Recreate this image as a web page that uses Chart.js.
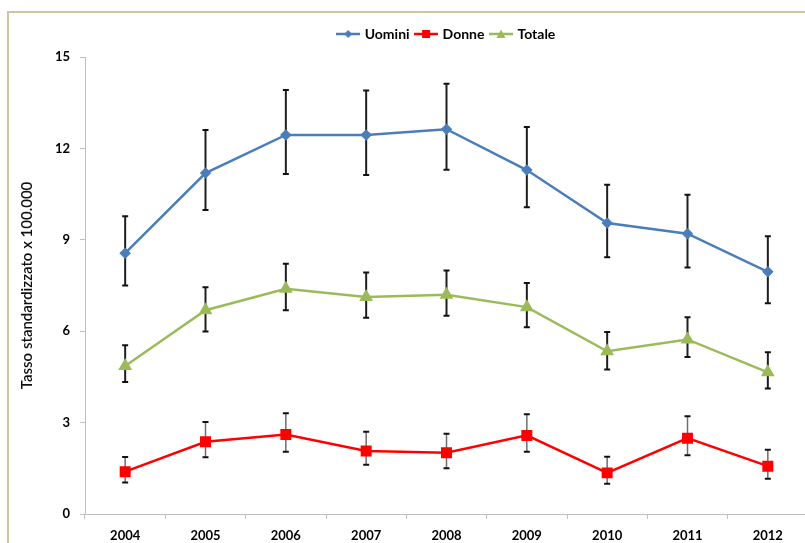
<!DOCTYPE html>
<html>
<head>
<meta charset="utf-8">
<script src="https://cdn.jsdelivr.net/npm/chart.js@4/dist/chart.umd.min.js"></script>
<style>
html,body{margin:0;padding:0;background:#fff;overflow:hidden;width:805px;height:543px;}
canvas{display:block;}
</style>
</head>
<body>
<canvas id="c" width="830" height="543"></canvas>
<script>
const years = ['2004','2005','2006','2007','2008','2009','2010','2011','2012'];
const uomini   = [8.56, 11.19, 12.44, 12.44, 12.63, 11.29, 9.55, 9.20, 7.95];
const uominiLo = [7.50,  9.98, 11.16, 11.13, 11.30, 10.07, 8.43, 8.09, 6.92];
const uominiHi = [9.77, 12.60, 13.92, 13.90, 14.12, 12.70, 10.81, 10.48, 9.12];
const donne    = [1.39, 2.37, 2.61, 2.07, 2.01, 2.58, 1.35, 2.49, 1.57];
const donneLo  = [1.03, 1.86, 2.04, 1.62, 1.50, 2.04, 0.99, 1.93, 1.16];
const donneHi  = [1.87, 3.02, 3.31, 2.70, 2.63, 3.27, 1.88, 3.21, 2.11];
const totale   = [4.86, 6.69, 7.39, 7.12, 7.20, 6.79, 5.34, 5.73, 4.65];
const totaleLo = [4.33, 5.99, 6.69, 6.44, 6.51, 6.13, 4.74, 5.15, 4.12];
const totaleHi = [5.54, 7.44, 8.21, 7.93, 7.99, 7.58, 5.97, 6.46, 5.31];
const seriesNames = ['Uomini','Donne','Totale'];
const yTitle = 'Tasso standardizzato x 100.000';

const BLUE = '#4a7ebb', RED = '#ff0000', GREEN = '#9bbb59';
const FONT = "Lato, 'DejaVu Sans', sans-serif";

function legendIcon(color, style) {
  const c = document.createElement('canvas');
  c.width = 24; c.height = 12;
  const g = c.getContext('2d');
  g.strokeStyle = color; g.lineWidth = 2.5;
  g.beginPath(); g.moveTo(0, 6); g.lineTo(24, 6); g.stroke();
  g.fillStyle = color;
  g.beginPath();
  if (style === 'diamond') { g.moveTo(12, 2); g.lineTo(16, 6); g.lineTo(12, 10); g.lineTo(8, 6); }
  else if (style === 'square') { g.rect(8, 2, 8, 8); }
  else { g.moveTo(12, 1.5); g.lineTo(16.5, 10); g.lineTo(7.5, 10); }
  g.closePath(); g.fill();
  return c;
}
const icons = [legendIcon(BLUE,'diamond'), legendIcon(RED,'square'), legendIcon(GREEN,'triangle')];

const errorBars = {
  id: 'errorBars',
  beforeDatasetsDraw(chart) {
    const ctx = chart.ctx, x = chart.scales.x, y = chart.scales.y;
    const sets = [
      {lo: uominiLo, hi: uominiHi, col: '#1e1e1e', w: 2},
      {lo: totaleLo, hi: totaleHi, col: '#1e1e1e', w: 2},
      {lo: donneLo,  hi: donneHi,  col: '#6e6e6e', w: 1.5}
    ];
    ctx.save();
    sets.forEach(s => {
      for (let i = 0; i < years.length; i++) {
        const px = x.getPixelForValue(i);
        const pl = y.getPixelForValue(s.lo[i]);
        const ph = y.getPixelForValue(s.hi[i]);
        ctx.strokeStyle = s.col; ctx.lineWidth = s.w;
        ctx.beginPath(); ctx.moveTo(px, pl); ctx.lineTo(px, ph); ctx.stroke();
        ctx.strokeStyle = '#111'; ctx.lineWidth = 2;
        ctx.beginPath();
        ctx.moveTo(px - 3, pl); ctx.lineTo(px + 3, pl);
        ctx.moveTo(px - 3, ph); ctx.lineTo(px + 3, ph);
        ctx.stroke();
      }
    });
    ctx.restore();
  }
};

const frame = {
  id: 'frame',
  beforeDraw(chart) {
    const ctx = chart.ctx;
    ctx.save();
    ctx.fillStyle = '#fff';
    ctx.fillRect(0, 0, chart.width, chart.height);
    ctx.strokeStyle = '#cdc6a3'; ctx.lineWidth = 2;
    ctx.beginPath();
    ctx.moveTo(8, chart.height); ctx.lineTo(8, 12); ctx.lineTo(chart.width, 12);
    ctx.stroke();
    ctx.restore();
  }
};

const legendTweak = {
  id: 'legendTweak',
  beforeInit(chart) {
    const lg = chart.legend;
    const fit = lg.fit;
    lg.fit = function() { fit.call(this); this.height = 37; };
  },
  afterLayout(chart) {
    const lg = chart.legend;
    const shift = 447 - (lg.left + lg.right) / 2;
    lg.left += shift; lg.right += shift;
  }
};

new Chart(document.getElementById('c'), {
  type: 'line',
  data: {
    labels: years,
    datasets: [
      {label: seriesNames[0], data: uomini, borderColor: BLUE, backgroundColor: BLUE, borderWidth: 2.5,
       pointStyle: 'rectRot', pointRadius: 4, tension: 0},
      {label: seriesNames[1], data: donne, borderColor: RED, backgroundColor: RED, borderWidth: 2.5,
       pointStyle: 'rect', pointRadius: 6, tension: 0},
      {label: seriesNames[2], data: totale, borderColor: GREEN, backgroundColor: GREEN, borderWidth: 2.5,
       pointStyle: 'triangle', pointRadius: 5.5, tension: 0}
    ]
  },
  options: {
    responsive: false,
    animation: false,
    devicePixelRatio: 1,
    layout: {padding: {top: 20, left: 0, right: 22, bottom: 0}},
    plugins: {
      tooltip: {enabled: false},
      legend: {
        position: 'top',
        labels: {
          usePointStyle: true,
          pointStyleWidth: 19,
          padding: 7,
          color: '#000',
          font: {family: FONT, size: 14, weight: 'bold'},
          generateLabels(chart) {
            return chart.data.datasets.map((d, i) => ({
              text: d.label, pointStyle: icons[i], fillStyle: d.borderColor,
              strokeStyle: d.borderColor, lineWidth: 0, hidden: false, datasetIndex: i, fontColor: '#000'
            }));
          }
        }
      }
    },
    scales: {
      x: {
        offset: true,
        grid: {offset: true, drawOnChartArea: false, drawTicks: true, tickLength: 5, color: '#bfbfbf'},
        border: {color: '#bfbfbf', width: 1},
        ticks: {color: '#000', padding: 9, font: {family: FONT, size: 13, weight: 'bold'}, maxRotation: 0},
        afterFit(s) { s.height = 29; }
      },
      y: {
        min: 0, max: 15,
        grid: {drawOnChartArea: false, drawTicks: true, tickLength: 5, color: '#bfbfbf'},
        border: {color: '#bfbfbf', width: 1},
        ticks: {stepSize: 3, color: '#000', padding: 10, font: {family: FONT, size: 13, weight: 'bold'}},
        title: {display: true, text: yTitle, color: '#111', padding: {top: 18, bottom: 0},
                font: {family: FONT, size: 15, weight: '600'}},
        afterFit(s) { s.width = 85; }
      }
    }
  },
  plugins: [frame, errorBars, legendTweak]
});
</script>
</body>
</html>
